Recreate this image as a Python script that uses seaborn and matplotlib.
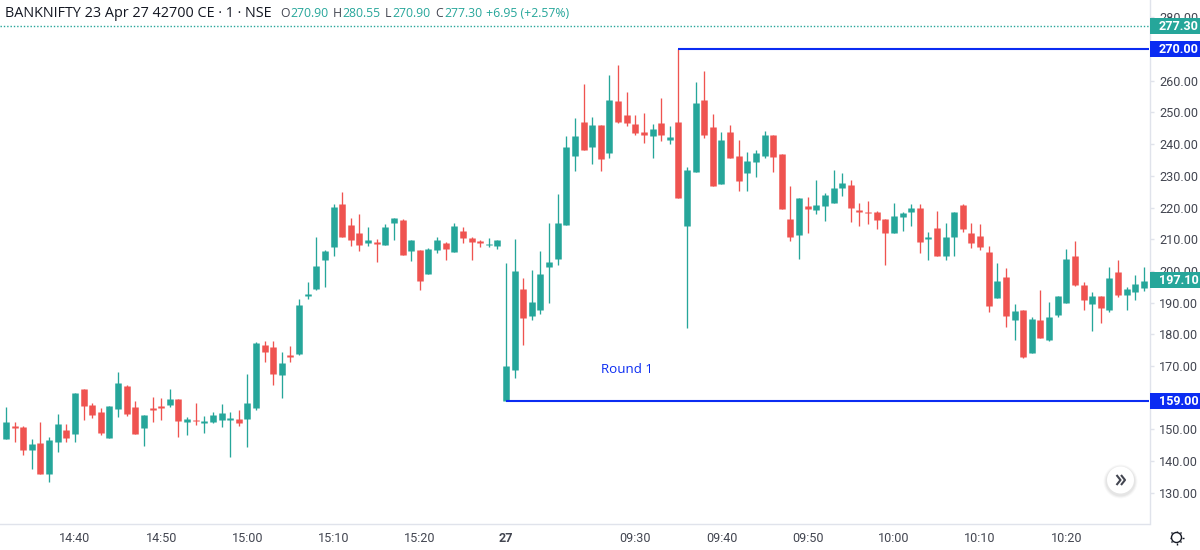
import matplotlib
matplotlib.use("Agg")
import matplotlib.pyplot as plt
from matplotlib.patches import Circle, Rectangle
from matplotlib.transforms import blended_transform_factory
import pandas as pd
import seaborn as sns

# one minute candles, first one is cut off by the left edge
opens = [147.1, 147.1, 151.1, 150.9, 143.5, 145.8, 135.9, 146.1, 149.8, 148.5, 162.8, 157.6, 155.5, 147.3, 156.4,
         163.7, 157.1, 150.4, 156.8, 157.4, 157.7, 159.5, 152.4, 153.1, 151.9, 152.4, 153.1, 153.1, 153.3, 153.4,
         156.8, 176.6, 176.0, 167.3, 173.6, 173.9, 192.1, 194.2, 203.5, 207.5, 221.1, 214.5, 212.0, 208.7, 209.2,
         208.1, 215.1, 216.0, 206.3, 206.6, 199.0, 206.6, 208.9, 206.0, 212.6, 210.5, 209.5, 208.1, 207.9, 159.0,
         168.7, 194.2, 185.8, 187.6, 201.2, 203.9, 214.5, 236.2, 247.1, 239.2, 246.1, 237.2, 253.7, 249.2, 246.4,
         243.8, 242.6, 246.8, 241.4, 247.1, 214.2, 231.1, 254.0, 245.3, 227.4, 243.7, 236.2, 230.8, 234.5, 236.2,
         242.9, 236.9, 216.5, 211.4, 220.5, 219.2, 220.5, 221.4, 226.0, 227.1, 219.2, 218.7, 218.7, 216.3, 212.0,
         217.1, 218.6, 219.8, 210.0, 213.5, 204.7, 210.8, 220.8, 212.0, 211.0, 206.0, 191.5, 198.1, 184.5, 187.8,
         174.0, 184.5, 178.2, 186.1, 189.8, 204.7, 195.6, 189.7, 192.1, 187.6, 199.6, 192.4, 193.3, 194.5]
highs = [148.2, 157.0, 152.4, 151.1, 147.0, 152.4, 147.6, 154.9, 151.6, 161.6, 162.8, 158.2, 156.6, 157.4, 168.1,
         163.9, 158.9, 154.5, 160.3, 160.0, 162.8, 159.5, 153.9, 158.2, 154.2, 155.5, 157.9, 155.5, 156.0, 167.6,
         177.5, 177.9, 177.9, 174.5, 176.3, 191.1, 196.6, 210.8, 206.6, 221.0, 225.0, 216.8, 218.1, 213.9, 210.1,
         214.7, 216.8, 216.3, 209.9, 206.6, 207.1, 210.8, 209.0, 215.0, 213.7, 210.7, 209.9, 210.5, 209.9, 202.4,
         210.2, 197.8, 200.2, 206.2, 215.0, 224.2, 242.6, 248.2, 258.9, 248.5, 246.1, 261.8, 265.0, 256.4, 249.2,
         249.8, 246.2, 254.6, 245.8, 270.0, 232.8, 259.5, 263.1, 249.4, 243.7, 246.1, 241.3, 237.4, 238.0, 244.0,
         242.9, 236.9, 226.8, 222.9, 223.2, 228.7, 224.7, 231.7, 230.8, 228.7, 221.4, 222.0, 218.9, 216.3, 221.4,
         218.6, 221.1, 221.1, 212.3, 218.9, 215.1, 218.7, 221.1, 215.1, 214.8, 207.7, 202.4, 200.8, 189.6, 187.8,
         185.4, 194.0, 190.2, 192.1, 206.9, 209.3, 196.5, 193.3, 192.1, 201.1, 203.5, 194.8, 198.7, 201.1]
lows = [147.0, 147.1, 146.1, 141.9, 137.4, 135.9, 133.5, 142.9, 146.0, 146.0, 153.1, 153.7, 148.3, 147.3, 153.9,
        154.3, 148.5, 144.9, 152.4, 153.0, 157.1, 147.6, 148.2, 151.4, 148.9, 152.1, 150.7, 141.3, 151.0, 144.3,
        156.1, 171.3, 164.0, 160.0, 171.3, 173.6, 191.2, 193.9, 194.8, 204.7, 210.7, 207.9, 206.3, 207.9, 202.7,
        208.1, 209.9, 205.0, 203.2, 193.9, 199.0, 205.8, 203.5, 206.0, 208.7, 203.5, 207.5, 207.5, 206.9, 159.0,
        166.1, 176.6, 184.5, 186.4, 190.0, 202.0, 214.5, 231.4, 238.1, 233.8, 231.4, 235.6, 246.8, 245.6, 242.9,
        240.5, 235.6, 241.0, 240.1, 223.0, 181.9, 231.1, 241.9, 226.9, 227.4, 235.6, 225.3, 225.3, 229.6, 235.6,
        231.1, 219.5, 209.3, 203.9, 212.1, 218.1, 215.9, 221.4, 223.5, 215.4, 214.2, 214.8, 213.2, 201.8, 212.0,
        212.6, 214.2, 205.6, 203.5, 204.7, 203.5, 204.7, 212.3, 207.2, 206.6, 187.1, 191.5, 182.4, 178.2, 172.4,
        174.0, 178.8, 177.9, 185.5, 189.8, 195.2, 187.8, 181.1, 183.7, 187.1, 191.8, 187.8, 190.8, 193.7]
closes = [147.9, 152.4, 150.4, 143.5, 145.5, 135.9, 146.7, 151.8, 147.3, 161.6, 157.4, 154.5, 148.9, 157.4, 164.5,
          154.9, 148.5, 154.5, 156.1, 156.8, 159.7, 152.5, 153.3, 152.6, 152.8, 154.5, 155.2, 153.5, 152.1, 158.2,
          177.2, 174.5, 167.5, 170.9, 172.7, 189.2, 192.7, 201.4, 206.3, 220.2, 210.7, 209.9, 208.1, 209.9, 208.5,
          213.9, 216.6, 205.0, 209.9, 196.8, 206.9, 209.6, 206.9, 214.2, 210.4, 209.1, 208.8, 208.4, 209.9, 170.0,
          200.0, 185.1, 190.2, 199.0, 202.9, 215.0, 239.0, 242.6, 238.1, 246.1, 235.3, 254.0, 247.1, 246.8, 243.5,
          242.9, 244.7, 242.9, 242.2, 223.0, 231.9, 252.9, 242.9, 226.9, 241.3, 235.6, 228.4, 234.7, 237.2, 242.9,
          235.9, 219.5, 210.8, 222.9, 219.5, 220.8, 224.1, 226.2, 227.7, 219.8, 218.7, 218.3, 216.1, 212.0, 217.4,
          218.3, 219.8, 209.0, 210.7, 204.7, 210.7, 218.7, 213.2, 208.8, 207.5, 188.9, 196.8, 185.8, 187.2, 172.7,
          184.8, 178.8, 185.5, 192.1, 203.7, 195.6, 190.8, 192.1, 188.4, 197.8, 192.4, 194.2, 195.8, 196.9]

price_ticks = [130, 140, 150, 160, 170, 180, 190, 200, 210, 220, 230, 240, 250, 260, 270, 280]
# these two sit fully under the price tags, the reference shows no label there
hidden_ticks = [160, 270]
time_labels = ["14:40", "14:50", "15:00", "15:10", "15:20", "27", "09:30", "09:40", "09:50", "10:00", "10:10", "10:20"]
time_candles = [8, 18, 28, 38, 48, 58, 73, 83, 93, 103, 113, 123]

round_low = 159.0
round_high = 270.0
round_low_candle = 58
round_high_candle = 78
last_price = 277.30
hover_price = 197.10

TEAL = "#26a69a"
RED = "#ef5350"
BLUE = "#0b2cf2"
TEXT = "#434651"
BORDER = "#e0e3eb"

sns.set_theme(style="white")
plt.rcParams["font.family"] = ["Roboto", "DejaVu Sans"]
plt.rcParams["lines.solid_capstyle"] = "butt"

candles = pd.DataFrame({"open": opens, "high": highs, "low": lows, "close": closes})
candles["candle"] = range(-1, len(candles) - 1)
candles["side"] = ["up" if c >= o else "down" for o, c in zip(opens, closes)]
palette = {"up": TEAL, "down": RED}

wicks = candles.melt(id_vars=["candle", "side"], value_vars=["high", "low"], value_name="price")
bodies = candles.melt(id_vars=["candle", "side"], value_vars=["open", "close"], value_name="price")

fig = plt.figure(figsize=(12, 5.5), dpi=100)
ax = fig.add_axes([0, 26 / 550, 1149.5 / 1200, 524 / 550])

sns.lineplot(data=wicks, x="candle", y="price", hue="side", units="candle", estimator=None,
             palette=palette, linewidth=0.95, legend=False, ax=ax, zorder=2)
sns.lineplot(data=bodies, x="candle", y="price", hue="side", units="candle", estimator=None,
             palette=palette, linewidth=4.7, legend=False, ax=ax, zorder=3)

ax.set_xlim(-0.696, 132.65)
ax.set_ylim(120.16, 285.46)
ax.set_xlabel("")
ax.set_ylabel("")

ax.yaxis.tick_right()
ax.set_yticks(price_ticks)
ax.set_yticklabels(["" if p in hidden_ticks else f"{p:.2f}" for p in price_ticks])
ax.tick_params(axis="y", length=3, width=1, color=BORDER, labelcolor=TEXT, labelsize=9.1, pad=4, right=True)
ax.set_xticks(time_candles)
ax.set_xticklabels(time_labels)
ax.tick_params(axis="x", length=0, labelcolor=TEXT, labelsize=9.1, pad=5.5)
for lab in ax.get_xticklabels():
    if lab.get_text() == "27":
        lab.set_fontweight("bold")

for side in ["top", "left"]:
    ax.spines[side].set_visible(False)
for side in ["right", "bottom"]:
    ax.spines[side].set_color(BORDER)
    ax.spines[side].set_linewidth(1)

# drawn levels and last price line
ax.plot([round_high_candle, 132.65], [round_high, round_high], color=BLUE, lw=1.5, zorder=4)
ax.plot([round_low_candle, 132.65], [round_low, round_low], color=BLUE, lw=1.5, zorder=4)
ax.axhline(last_price, color=TEAL, lw=1, ls=(0, (1, 1.4)), zorder=1)
ax.text(72, 169.0, "Round 1", color=BLUE, fontsize=9.6, ha="center", va="center", fontweight="medium",
        family=["Open Sans", "DejaVu Sans"])

# price tags on the axis
trans = blended_transform_factory(ax.transAxes, ax.transData)
tags = [(last_price, TEAL), (round_high, BLUE), (round_low, BLUE), (hover_price, TEAL)]
for price, colour in tags:
    ax.add_patch(Rectangle((1.0, price - 2.5), 52 / 1149.5, 5.0, transform=trans, color=colour,
                           clip_on=False, zorder=6, lw=0))
    ax.text(1 + 9.5 / 1149.5, price - 0.1, f"{price:.2f}", transform=trans, color="white", fontsize=9.1,
            fontweight="bold", va="center", ha="left", zorder=7, clip_on=False)


def fig_text(x, y, s, **kw):
    fig.text(x / 1200, 1 - y / 550, s, va="center", ha="left", family=["Open Sans", "DejaVu Sans"], **kw)


# header line
fig_text(5, 13.5, "BANKNIFTY 23 Apr 27 42700 CE · 1 · NSE", color="#131722", fontsize=10.4)
for x, s, colour in [(280.5, "O", TEXT), (290, "270.90", TEAL), (333, "H", TEXT), (342, "280.55", TEAL),
                     (385, "L", TEXT), (392, "270.90", TEAL), (435.5, "C", TEXT), (444, "277.30", TEAL),
                     (486, "+6.95 (+2.57%)", TEAL)]:
    fig_text(x, 13.5, s, color=colour, fontsize=8.8)

# scroll button and settings icon, drawn in pixels over everything
over = fig.add_axes([0, 0, 1, 1], facecolor="none")
over.set_xlim(0, 1200)
over.set_ylim(550, 0)
over.axis("off")
for r, a in [(17, 0.025), (16, 0.035), (15, 0.045)]:
    over.add_patch(Circle((1120.5, 481.5), r, color="black", alpha=a, lw=0))
over.add_patch(Circle((1120.5, 480), 13.5, color="white", lw=0))
for dx in [0, 4.5]:
    over.plot([1116.5 + dx, 1120.5 + dx, 1116.5 + dx], [475, 480, 485], color=TEXT, lw=1.5)
over.add_patch(Circle((1176.5, 537.5), 5, fill=False, ec="#131722", lw=1))
for dx, dy in [(0, -7), (0, 7), (-7, 0), (7, 0), (-5, -5), (5, -5), (-5, 5), (5, 5)]:
    over.plot([1176.5 + dx * 0.8, 1176.5 + dx], [537.5 + dy * 0.8, 537.5 + dy], color="#131722", lw=1)

fig.savefig("out.png", dpi=100)
